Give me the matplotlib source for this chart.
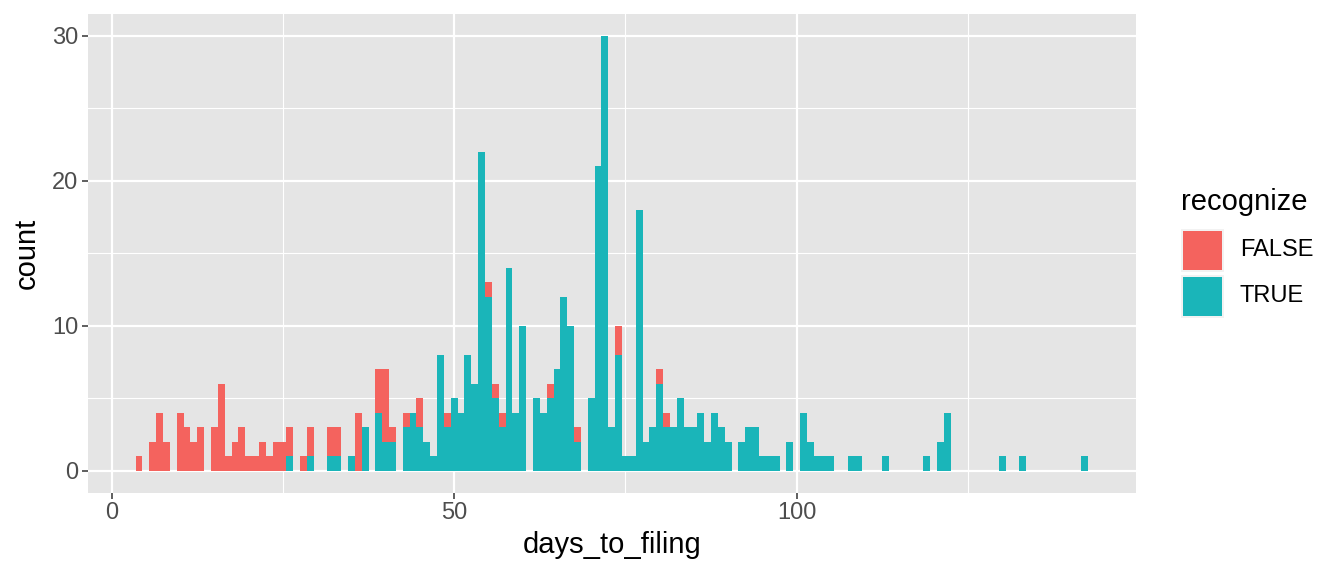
import matplotlib
matplotlib.use("Agg")
from matplotlib import pyplot as plt
from matplotlib.patches import Rectangle
from matplotlib.ticker import MultipleLocator
import numpy as np

# binwidth 1 histogram, counts (days with zero count left out)
days = [4, 6, 7, 8, 10, 11, 12, 13, 15, 16, 17, 18, 19, 20, 21, 22, 23, 24, 25, 26,
        28, 29, 32, 33, 35, 36, 37, 39, 40, 41, 43, 44, 45, 46, 47, 48, 49, 50, 51, 52,
        53, 54, 55, 56, 57, 58, 59, 60, 62, 63, 64, 65, 66, 67, 68, 70, 71, 72, 73, 74,
        75, 76, 77, 78, 79, 80, 81, 82, 83, 84, 85, 86, 87, 88, 89, 90, 92, 93, 94, 95,
        96, 97, 99, 101, 102, 103, 104, 105, 108, 109, 113, 119, 121, 122, 130, 133, 142]
false_counts = [1, 2, 4, 2, 4, 3, 2, 3, 3, 6, 1, 2, 3, 1, 1, 2, 1, 2, 2, 2,
                1, 2, 2, 2, 0, 4, 0, 3, 5, 1, 1, 0, 2, 0, 0, 0, 1, 0, 0, 0,
                0, 0, 1, 1, 1, 0, 0, 0, 0, 0, 1, 0, 0, 0, 1, 0, 0, 0, 0, 2,
                0, 0, 0, 0, 0, 1, 1, 0, 0, 0, 0, 0, 0, 0, 0, 0, 0, 0, 0, 0,
                0, 0, 0, 0, 0, 0, 0, 0, 0, 0, 0, 0, 0, 0, 0, 0, 0]
true_counts = [0, 0, 0, 0, 0, 0, 0, 0, 0, 0, 0, 0, 0, 0, 0, 0, 0, 0, 0, 1,
               0, 1, 1, 1, 1, 0, 3, 4, 2, 2, 3, 4, 3, 2, 1, 8, 3, 5, 4, 8,
               6, 22, 12, 5, 3, 14, 4, 10, 5, 4, 5, 7, 12, 10, 2, 5, 21, 30, 3, 8,
               1, 1, 18, 2, 3, 6, 3, 3, 5, 3, 3, 4, 2, 4, 3, 2, 2, 3, 3, 1,
               1, 1, 2, 4, 2, 1, 1, 1, 1, 1, 1, 1, 2, 4, 1, 1, 1]
groups = ["FALSE", "TRUE"]

red = "#F4635E"
teal = "#1AB5B9"
colors = [red, teal]

days = np.array(days)
true_counts = np.array(true_counts)
false_counts = np.array(false_counts)

plt.rcParams['font.family'] = ['Liberation Sans', 'DejaVu Sans']

W, H = 1344, 576
fig = plt.figure(figsize=(W / 100, H / 100), dpi=100)
ax = fig.add_axes([88 / W, (H - 492.5) / H, (1135.5 - 88) / W, (492.5 - 14) / H])
ax.set_facecolor("#E5E5E5")

ax.bar(days, true_counts, width=1.0, color=teal, linewidth=0, zorder=3)
ax.bar(days, false_counts, width=1.0, bottom=true_counts, color=red, linewidth=0, zorder=3)

lo, hi = days.min() - 0.5, days.max() + 0.5
pad = (hi - lo) * 0.05
ax.set_xlim(lo - pad, hi + pad)
ymax = (true_counts + false_counts).max()
ax.set_ylim(-ymax * 0.05, ymax * 1.05)

ax.xaxis.set_major_locator(MultipleLocator(50))
ax.xaxis.set_minor_locator(MultipleLocator(25))
ax.yaxis.set_major_locator(MultipleLocator(10))
ax.yaxis.set_minor_locator(MultipleLocator(5))
ax.grid(which="major", color="white", linewidth=1.6, zorder=1)
ax.grid(which="minor", color="white", linewidth=0.8, zorder=1)
ax.set_axisbelow(True)
for s in ax.spines.values():
    s.set_visible(False)
ax.tick_params(which="major", length=4, width=1.1, color="#333333",
               labelcolor="#4D4D4D", labelsize=17, pad=3)
ax.tick_params(which="minor", length=0)

ax.set_xlabel("days_to_filing", fontsize=21, color="black", labelpad=5)
ax.set_ylabel("count", fontsize=21, color="black", labelpad=8)

# legend drawn by hand, ggplot style
fig.text(1181 / W, 1 - 202 / H, "recognize", fontsize=21, ha="left", va="center")
key = 43
for i, (lab, c) in enumerate(zip(groups, colors)):
    top = 229 + i * (key + 3)
    fig.add_artist(Rectangle((1181 / W, 1 - (top + key) / H), key / W, key / H,
                             transform=fig.transFigure, facecolor="#F2F2F2", edgecolor="none"))
    fig.add_artist(Rectangle((1183 / W, 1 - (top + key - 2) / H), (key - 4) / W, (key - 4) / H,
                             transform=fig.transFigure, facecolor=c, edgecolor="none"))
    fig.text(1240 / W, 1 - (top + key / 2) / H, lab, fontsize=17, ha="left", va="center")

fig.savefig("out.png", dpi=100)
